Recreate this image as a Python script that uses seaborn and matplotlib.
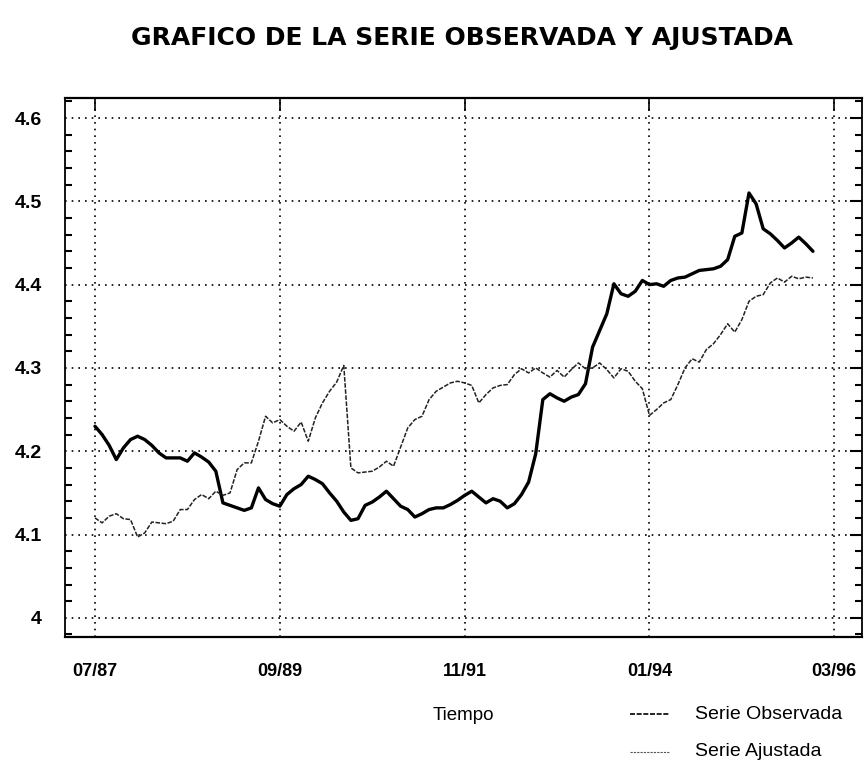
import numpy as np
import pandas as pd
import matplotlib
matplotlib.use('Agg')
import matplotlib.pyplot as plt
from matplotlib.lines import Line2D
import seaborn as sns

# valores mensuales (07/87 en adelante)
serie_observada = [
    4.230, 4.220, 4.207, 4.190, 4.204, 4.214, 4.218, 4.214, 4.207, 4.198,
    4.192, 4.192, 4.192, 4.188, 4.198, 4.193, 4.187, 4.176, 4.138, 4.135,
    4.132, 4.129, 4.132, 4.156, 4.142, 4.137, 4.134, 4.148, 4.155, 4.160,
    4.170, 4.166, 4.161, 4.150, 4.140, 4.127, 4.117, 4.119, 4.135, 4.139,
    4.145, 4.152, 4.143, 4.134, 4.130, 4.121, 4.125, 4.130, 4.132, 4.132,
    4.136, 4.141, 4.147, 4.152, 4.145, 4.138, 4.143, 4.140, 4.132, 4.137,
    4.148, 4.163, 4.197, 4.262, 4.269, 4.264, 4.260, 4.265, 4.268, 4.281,
    4.325, 4.345, 4.365, 4.401, 4.389, 4.386, 4.392, 4.405, 4.400, 4.401,
    4.398, 4.405, 4.408, 4.409, 4.413, 4.417, 4.418, 4.419, 4.422, 4.430,
    4.458, 4.462, 4.510, 4.497, 4.467, 4.461, 4.453, 4.444, 4.450, 4.457,
    4.449, 4.440,
]
serie_ajustada = [
    4.120, 4.114, 4.122, 4.125, 4.119, 4.118, 4.097, 4.102, 4.115, 4.114,
    4.113, 4.116, 4.130, 4.130, 4.142, 4.148, 4.143, 4.152, 4.147, 4.150,
    4.178, 4.186, 4.186, 4.212, 4.242, 4.234, 4.238, 4.230, 4.224, 4.235,
    4.212, 4.240, 4.258, 4.272, 4.283, 4.303, 4.180, 4.174, 4.175, 4.176,
    4.181, 4.188, 4.182, 4.205, 4.228, 4.238, 4.242, 4.262, 4.272, 4.277,
    4.282, 4.284, 4.282, 4.279, 4.258, 4.268, 4.276, 4.279, 4.280, 4.292,
    4.299, 4.294, 4.300, 4.294, 4.289, 4.297, 4.289, 4.298, 4.306, 4.299,
    4.300, 4.306, 4.298, 4.288, 4.299, 4.296, 4.284, 4.275, 4.243, 4.250,
    4.258, 4.262, 4.280, 4.300, 4.311, 4.307, 4.322, 4.329, 4.340, 4.353,
    4.343, 4.358, 4.380, 4.386, 4.388, 4.402, 4.408, 4.403, 4.410, 4.407,
    4.409, 4.408,
]
x_ticks = [0, 26, 52, 78, 104]
x_labels = ['07/87', '09/89', '11/91', '01/94', '03/96']
y_ticks = [4.0, 4.1, 4.2, 4.3, 4.4, 4.5, 4.6]
y_labels = ['4', '4.1', '4.2', '4.3', '4.4', '4.5', '4.6']

mes = np.arange(len(serie_observada))
df = pd.DataFrame({'mes': mes, 'obs': serie_observada, 'ajus': serie_ajustada})

sns.set_style('white')
plt.rcParams['font.family'] = ['Liberation Sans', 'DejaVu Sans']
plt.rcParams['text.color'] = 'black'
plt.rcParams['axes.labelcolor'] = 'black'
plt.rcParams['xtick.color'] = 'black'
plt.rcParams['ytick.color'] = 'black'

fig = plt.figure(figsize=(8.64, 7.67), dpi=100)
ax = fig.add_axes([0.0752, 0.1695, 0.9225, 0.7027])

sns.lineplot(data=df, x='mes', y='obs', ax=ax, color='black', linewidth=2.4)
sns.lineplot(data=df, x='mes', y='ajus', ax=ax, color='#222222', linewidth=1.1,
             linestyle=(0, (3, 1)))

ax.set_xlim(-4.22, 107.9)
ax.set_ylim(3.977, 4.624)
ax.set_xticks(x_ticks)
ax.set_xticklabels(x_labels, fontsize=13, fontweight='bold')
ax.set_yticks(y_ticks)
ax.set_yticklabels(y_labels, fontsize=14, fontweight='bold')
ax.set_yticks(np.arange(3.98, 4.621, 0.02), minor=True)
ax.tick_params(axis='y', which='major', direction='in', length=9, width=1.5,
               right=True, pad=16.5)
ax.tick_params(axis='y', which='minor', direction='in', length=5, width=1.5,
               left=True, right=True)
ax.tick_params(axis='x', which='major', direction='in', length=9, width=1.2,
               top=True, pad=19)
ax.grid(True, which='major', color='black', linestyle=(0, (1, 3)), linewidth=1.2)

for lado in ['left', 'right']:
    ax.spines[lado].set_linewidth(1.3)
for lado in ['top', 'bottom']:
    ax.spines[lado].set_linewidth(1.6)
    ax.spines[lado].set_linestyle((0, (5, 1)))
for s in ax.spines.values():
    s.set_color('black')

ax.set_xlabel('Tiempo', fontsize=13.5, labelpad=19)
ax.set_ylabel('')

fig.text(0.535, 0.95, 'GRAFICO DE LA SERIE OBSERVADA Y AJUSTADA',
         ha='center', va='center', fontsize=18, fontweight='bold',
         family='DejaVu Sans', color='black')

# leyenda
fig.add_artist(Line2D([0.729, 0.775], [0.069, 0.069], color='black',
                      linewidth=1.2, linestyle=(0, (3, 1))))
fig.add_artist(Line2D([0.729, 0.775], [0.0196, 0.0196], color='#555555',
                      linewidth=0.8, linestyle=(0, (2, 1))))
fig.text(0.804, 0.069, 'Serie Observada', fontsize=14, va='center')
fig.text(0.804, 0.0196, 'Serie Ajustada', fontsize=14, va='center')

fig.savefig('out.png', dpi=100)
